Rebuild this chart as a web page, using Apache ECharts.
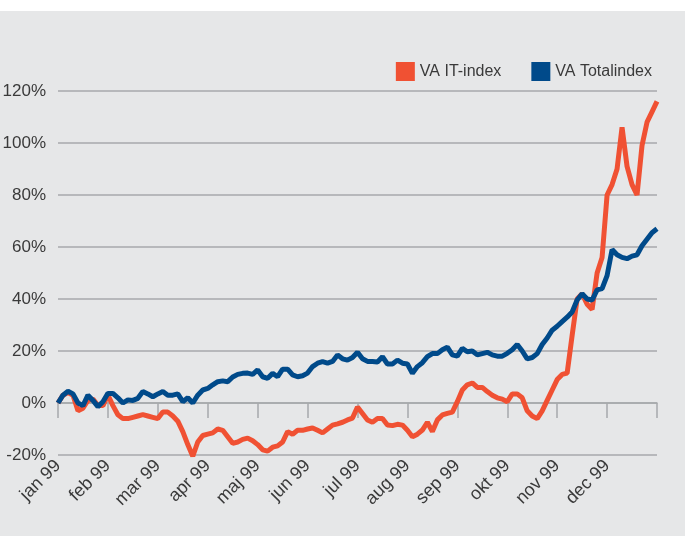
<!DOCTYPE html>
<html>
  <head>
    <meta charset="utf-8" />
    <title>VA IT-index / VA Totalindex 1999</title>
    <script src="https://cdn.jsdelivr.net/npm/echarts@6/dist/echarts.min.js"></script>
    <style>
      html, body { margin: 0; padding: 0; background: #fff; }
      #main { position: absolute; left: 0; top: 11px; width: 685px; height: 525px; }
    </style>
  </head>
  <body>
    <div id="main"></div>
    <script type="text/javascript">
      // month tick labels (x axis runs 0..12 months)
      var months = ['jan 99', 'feb 99', 'mar 99', 'apr 99', 'maj 99', 'jun 99',
                    'jul 99', 'aug 99', 'sep 99', 'okt 99', 'nov 99', 'dec 99'];
      // values read every tenth of a month, in %
      var stepsPerMonth = 10;
      var itIndex = [
        0, 3, 4, 3, -3, -2, 1, 1.5, -1, -1,
        3, -1, -4.5, -6, -6, -5.5, -5, -4.5, -5, -5.5,
        -6, -3.5, -3.5, -5, -7, -11, -16, -20.5, -15, -12.5,
        -12, -11.5, -10, -10.5, -13, -15.5, -15, -14, -13.5, -14.5,
        -16, -18, -18.5, -17, -16.5, -15, -11, -12, -10.5, -10.5,
        -10, -9.6, -10.5, -11.5, -10, -8.5, -8, -7.4, -6.5, -5.8,
        -1.5, -4, -6.5, -7.4, -6, -6, -8.5, -8.7, -8.2, -8.5,
        -10.5, -13, -12, -10.4, -7.4, -11, -6.5, -4.6, -4, -3.5,
        0.5, 5, 7, 7.7, 6, 6, 4.4, 3, 2, 1.5,
        0.5, 3.5, 3.5, 2, -3, -5, -6, -3, 1, 5,
        9, 11, 11.5, 26, 40, 42, 38, 36, 50, 56,
        80, 84, 90, 106, 91, 84, 80, 99, 108, 112,
        116
      ];
      var totalIndex = [
        0, 3, 4.5, 3.5, 0, -1, 3, 1, -1.4, 0.5,
        3.7, 3.7, 2, 0, 1.2, 1, 1.8, 4.4, 3.5, 2.4,
        3.5, 4.4, 3, 3, 3.5, 0.5, 2, 0, 3, 5,
        5.6, 7, 8.2, 8.5, 8.2, 10, 11, 11.4, 11.5, 11,
        12.7, 10.1, 9.5, 11.4, 10.1, 13, 13, 10.8, 10.1, 10.5,
        11.5, 14, 15.3, 15.9, 15.3, 16, 18.5, 17, 16.5, 17.5,
        19.5, 17, 16, 16, 15.8, 17.8, 15, 15, 16.5, 15.3,
        15, 11.4, 14, 15.5, 17.8, 19, 19, 20.5, 21.5, 18.5,
        18, 21, 19.7, 20, 18.5, 19, 19.5, 18.5, 18, 18,
        19.1, 20.5, 22.5, 20, 17, 17.5, 19, 22.5, 25, 28,
        29.5, 31.3, 33, 35, 39.6, 42, 40, 39.6, 43.5, 44,
        49, 59, 57, 56, 55.5, 56.5, 57, 60.5, 63, 65.5,
        67
      ];

      function toPairs(arr) {
        return arr.map(function (v, i) { return [i / stepsPerMonth, v]; });
      }

      var font = "'Liberation Sans', Arial, sans-serif";
      var gridColor = '#a7a9ac';
      var textColor = '#3a3a3a';

      var myChart = echarts.init(document.getElementById('main'));
      var option = {
        backgroundColor: '#e6e7e8',
        animation: false,
        textStyle: { fontFamily: font },
        legend: {
          right: 28,
          top: 46,
          icon: 'rect',
          itemWidth: 19,
          itemHeight: 19,
          itemGap: 30,
          textStyle: { fontFamily: font, fontSize: 16, color: textColor },
          data: ['VA IT-index', 'VA Totalindex']
        },
        grid: {
          left: 58,
          right: 28,
          top: 80,
          bottom: 81,
          containLabel: false,
          outerBoundsMode: 'none'
        },
        xAxis: [{
          type: 'value',
          min: 0,
          max: 12,
          interval: 1,
          axisLine: { show: true, onZero: true, lineStyle: { color: gridColor, width: 1.5 } },
          axisTick: { show: true, length: 15, lineStyle: { color: gridColor, width: 1.5 } },
          axisLabel: { show: false },
          splitLine: { show: false }
        }, {
          type: 'value',
          position: 'bottom',
          min: 0,
          max: 12,
          interval: 1,
          axisLine: { show: false, onZero: false },
          axisTick: { show: false },
          splitLine: { show: false },
          axisLabel: {
            rotate: 45,
            margin: 8,
            fontFamily: font,
            fontSize: 18,
            color: textColor,
            formatter: function (v) { return months[v] || ''; }
          }
        }],
        yAxis: {
          type: 'value',
          min: -20,
          max: 120,
          interval: 20,
          axisLine: { show: false },
          axisTick: { show: false },
          splitLine: { lineStyle: { color: gridColor, width: 1.5 } },
          axisLabel: {
            margin: 12,
            fontFamily: font,
            fontSize: 17,
            color: textColor,
            formatter: '{value}%'
          }
        },
        series: [{
          name: 'VA IT-index',
          type: 'line',
          xAxisIndex: 0,
          showSymbol: false,
          itemStyle: { color: '#f05133' },
          lineStyle: { color: '#f05133', width: 5 },
          data: toPairs(itIndex)
        }, {
          name: 'VA Totalindex',
          type: 'line',
          xAxisIndex: 0,
          showSymbol: false,
          itemStyle: { color: '#004a8a' },
          lineStyle: { color: '#004a8a', width: 5 },
          data: toPairs(totalIndex)
        }]
      };
      myChart.setOption(option);
    </script>
  </body>
</html>
